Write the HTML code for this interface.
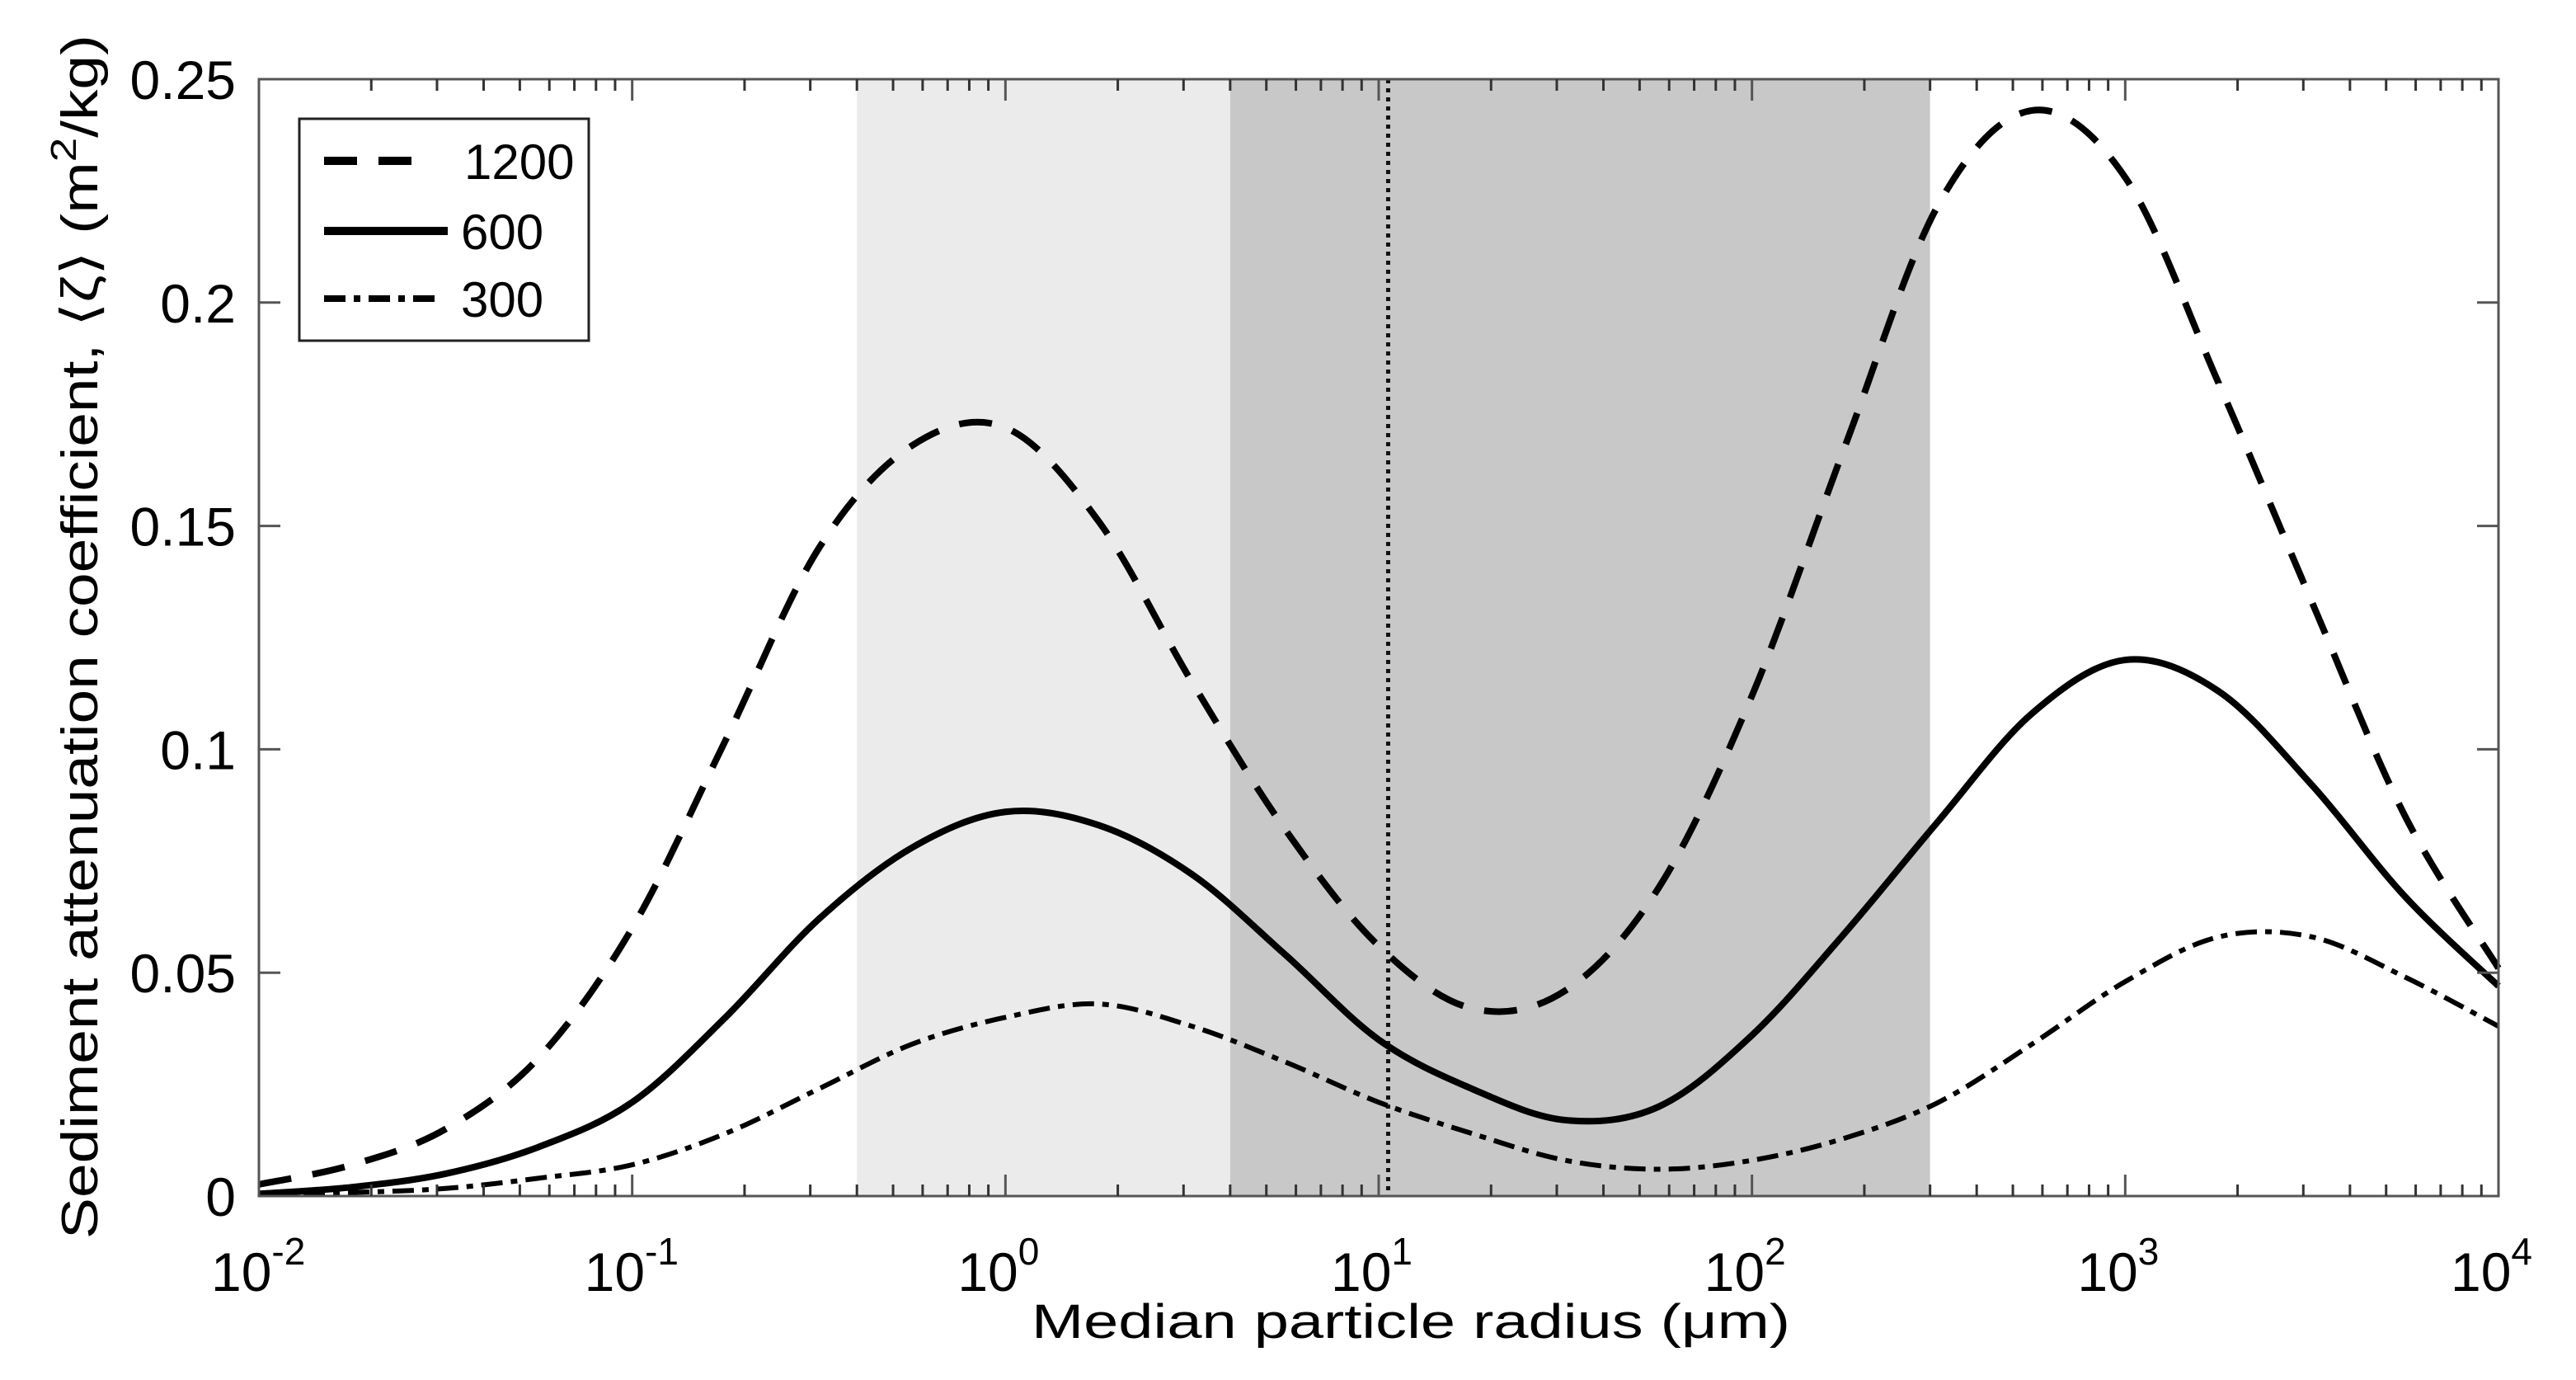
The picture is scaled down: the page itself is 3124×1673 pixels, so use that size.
<!DOCTYPE html>
<html><head><meta charset="utf-8"><style>
html,body{margin:0;padding:0;background:#fff;}
svg{display:block;font-family:"Liberation Sans",Arial,sans-serif;}
</style></head><body>
<svg id="chart" width="3124" height="1673" viewBox="0 0 3124 1673" xmlns="http://www.w3.org/2000/svg">
<g id="bands"></g>
<g id="series"></g>
<g id="axes"></g>
<g id="legend"></g>
</svg>
<script>
const logX = [-2,-1.75,-1.5,-1.25,-1,-0.75,-0.5,-0.25,0,0.25,0.5,0.75,1,1.25,1.5,1.75,2,2.25,2.5,2.75,3,3.25,3.5,3.75,4];
const s1200 = [0.0026,0.007,0.015,0.031,0.060,0.102,0.145,0.168,0.172,0.151,0.115,0.082,0.056,0.042,0.046,0.069,0.112,0.168,0.222,0.243,0.228,0.182,0.133,0.085,0.051];
const s600 = [0.0005,0.002,0.005,0.011,0.021,0.040,0.062,0.078,0.086,0.083,0.072,0.054,0.035,0.024,0.017,0.020,0.036,0.059,0.084,0.108,0.120,0.113,0.092,0.067,0.047];
const s300 = [0.0003,0.0008,0.0017,0.004,0.007,0.014,0.024,0.034,0.040,0.043,0.038,0.030,0.021,0.014,0.008,0.006,0.008,0.013,0.021,0.034,0.048,0.058,0.058,0.049,0.038];
const yTicks = [0,0.05,0.1,0.15,0.2,0.25];
const yTickLabels = ["0","0.05","0.1","0.15","0.2","0.25"];
const xDecades = [-2,-1,0,1,2,3,4];
const lightBand = [0.4,4];
const darkBand = [4,300];
const dottedX = 10.6;
const legendLabels = ["1200","600","300"];

const L=314,R=3030,T=96,B=1450;
const xs=v=>L+(v+2)/6*(R-L);
const xr=r=>xs(Math.log10(r));
const ys=v=>B-v/0.25*(B-T);
const NS="http://www.w3.org/2000/svg";
function mk(tag,attrs,parent){const e=document.createElementNS(NS,tag);for(const k in attrs)e.setAttribute(k,attrs[k]);parent.appendChild(e);return e;}

const bands=document.getElementById('bands');
let b1=mk('rect',{x:xr(lightBand[0]),y:T,width:xr(lightBand[1])-xr(lightBand[0]),height:B-T,fill:'#ebebeb'},bands);


let b2=mk('rect',{x:xr(darkBand[0]),y:T,width:xr(darkBand[1])-xr(darkBand[0]),height:B-T,fill:'#c8c8c8'},bands);


let dl=mk('line',{x1:xr(dottedX),x2:xr(dottedX),y1:T,y2:B,stroke:'#111','stroke-width':5,'stroke-dasharray':'5 6'},bands);



function pathFor(vals){
  const p=logX.map((x,i)=>[xs(x),ys(vals[i])]);
  let d='M'+p[0][0]+','+p[0][1];
  for(let i=0;i<p.length-1;i++){
    const p0=p[Math.max(0,i-1)],p1=p[i],p2=p[i+1],p3=p[Math.min(p.length-1,i+2)];
    const c1=[p1[0]+(p2[0]-p0[0])/6,p1[1]+(p2[1]-p0[1])/6];
    const c2=[p2[0]-(p3[0]-p1[0])/6,p2[1]-(p3[1]-p1[1])/6];
    d+=' C'+c1+' '+c2+' '+p2;
  }
  return d;
}
const series=document.getElementById('series');
const styles=[{v:s1200,w:8,da:'40 26',n:'series-1200'},{v:s600,w:8,da:'',n:'series-600'},{v:s300,w:6,da:'26 10 8 10',n:'series-300'}];
styles.forEach(s=>{
  const e=mk('path',{d:pathFor(s.v),fill:'none',stroke:'#000','stroke-width':s.w,'stroke-dasharray':s.da},series);
  
  
});

const ax=document.getElementById('axes');
let frame=mk('rect',{x:L,y:T,width:R-L,height:B-T,fill:'none',stroke:'#555','stroke-width':3},ax);


yTicks.forEach((v,i)=>{
  const y=ys(v);
  mk('line',{x1:L,x2:L+26,y1:y,y2:y,stroke:'#555','stroke-width':3},ax);
  mk('line',{x1:R,x2:R-26,y1:y,y2:y,stroke:'#555','stroke-width':3},ax);
  const t=mk('text',{x:L-28,y:y+24,'text-anchor':'end','font-size':66,fill:'#000'},ax);
  t.textContent=yTickLabels[i];
  
  
});
xDecades.forEach(dv=>{
  const x=xs(dv);
  mk('line',{x1:x,x2:x,y1:B,y2:B-26,stroke:'#555','stroke-width':3},ax);
  mk('line',{x1:x,x2:x,y1:T,y2:T+26,stroke:'#555','stroke-width':3},ax);
  if(dv<4){for(let m=2;m<10;m++){const xm=xs(dv+Math.log10(m));
    mk('line',{x1:xm,x2:xm,y1:B,y2:B-14,stroke:'#333','stroke-width':3},ax);
    mk('line',{x1:xm,x2:xm,y1:T,y2:T+14,stroke:'#333','stroke-width':3},ax);}}
  const t=mk('text',{x:x-58,y:1565,'text-anchor':'start','font-size':66,fill:'#000'},ax);
  
  
  t.appendChild(document.createTextNode('10'));
  const sp=mk('tspan',{'font-size':46,dy:-32},t);sp.textContent=String(dv);
});
let xt=mk('text',{x:1251,y:1622,'text-anchor':'start','font-size':58,fill:'#000',textLength:920,lengthAdjust:'spacingAndGlyphs'},ax);
xt.textContent='Median particle radius (μm)';


let yt=mk('text',{x:0,y:0,'text-anchor':'middle','font-size':62,fill:'#000',transform:'translate(118,772) rotate(-90)',textLength:1460,lengthAdjust:'spacingAndGlyphs'},ax);


yt.appendChild(document.createTextNode('Sediment attenuation coefficient, ⟨ζ⟩ (m'));
const sup=mk('tspan',{'font-size':44,dy:-26},yt);sup.textContent='2';
const rest=mk('tspan',{dy:26},yt);rest.textContent='/kg)';

const lg=document.getElementById('legend');
let box=mk('rect',{x:363,y:144,width:351,height:269,fill:'#fff',stroke:'#222','stroke-width':3},lg);


const ly=[195,280,362];
styles.forEach((s,i)=>{
  const g=mk('g',{},lg);
  
  
  mk('line',{x1:393,x2:i==0?508:(i==1?543:537),y1:ly[i],y2:ly[i],stroke:'#000','stroke-width':s.w+2,'stroke-dasharray':s.da},g);
  const t=mk('text',{x:i==0?563:559,y:ly[i]+22,'font-size':60,fill:'#000'},g);
  t.textContent=legendLabels[i];
});
</script>
</body></html>
